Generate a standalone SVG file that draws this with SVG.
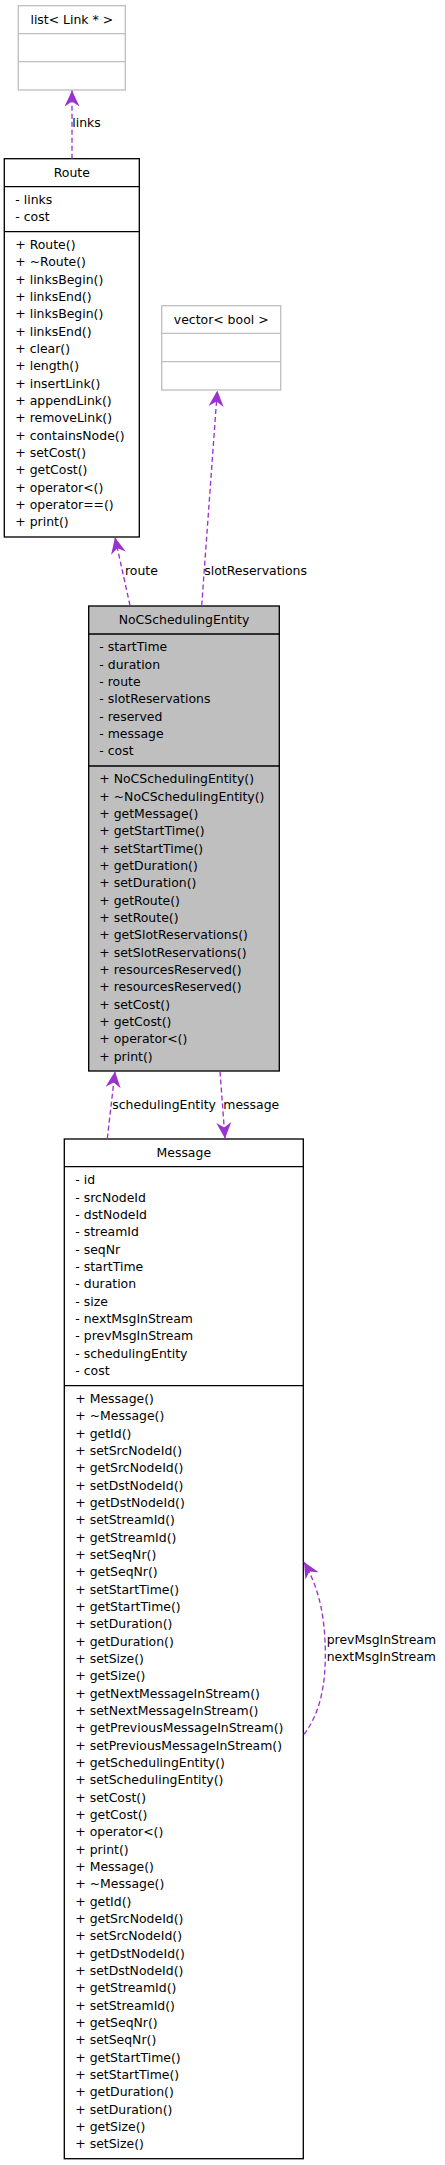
<svg xmlns="http://www.w3.org/2000/svg" width="445" height="2165" viewBox="0 0 445 2165">
<style>
text{font-family:"DejaVu Sans","Liberation Sans",sans-serif;font-size:12.45px;fill:#000}
.c{text-anchor:middle}
.box{fill:#fff;stroke:#000;stroke-width:1.33}
.ext{fill:#fff;stroke:#bfbfbf;stroke-width:1.33}
.sel{fill:#bfbfbf;stroke:#000;stroke-width:1.33}
.dv{stroke:#000;stroke-width:1.33}
.dvg{stroke:#bfbfbf;stroke-width:1.33}
.e{fill:none;stroke:#9a32cd;stroke-width:1.33;stroke-dasharray:5,3;marker-end:url(#ah)}
</style>
<defs>
<marker id="ah" viewBox="0 0 16 15" refX="16" refY="7.5" markerWidth="16" markerHeight="15" orient="auto" markerUnits="userSpaceOnUse">
<path d="M16,7.5 L0,0 L5,7.5 L0,15 z" fill="#9a32cd"/>
</marker>
</defs>
<rect width="445" height="2165" fill="#fff"/>

<g id="list_link">
<rect class="ext" x="18.3" y="5.7" width="107" height="84.3"/>
<line class="dvg" x1="18.3" y1="33.7" x2="125.3" y2="33.7"/>
<line class="dvg" x1="18.3" y1="61.7" x2="125.3" y2="61.7"/>
<text class="c" x="71.8" y="23.5">list&lt; Link * &gt;</text>
</g>

<g id="route">
<rect class="box" x="4.3" y="158.7" width="135" height="378.3"/>
<line class="dv" x1="4.3" y1="186.7" x2="139.3" y2="186.7"/>
<line class="dv" x1="4.3" y1="231.7" x2="139.3" y2="231.7"/>
<text class="c" x="71.8" y="176.7">Route</text>
<text x="15.3" y="204">- links</text>
<text x="15.3" y="221.3">- cost</text>
<text x="15.3" y="249">+ Route()</text>
<text x="15.3" y="266.3">+ ~Route()</text>
<text x="15.3" y="283.7">+ linksBegin()</text>
<text x="15.3" y="301">+ linksEnd()</text>
<text x="15.3" y="318.3">+ linksBegin()</text>
<text x="15.3" y="335.7">+ linksEnd()</text>
<text x="15.3" y="353">+ clear()</text>
<text x="15.3" y="370.3">+ length()</text>
<text x="15.3" y="387.7">+ insertLink()</text>
<text x="15.3" y="405">+ appendLink()</text>
<text x="15.3" y="422.3">+ removeLink()</text>
<text x="15.3" y="439.7">+ containsNode()</text>
<text x="15.3" y="457">+ setCost()</text>
<text x="15.3" y="474.3">+ getCost()</text>
<text x="15.3" y="491.7">+ operator&lt;()</text>
<text x="15.3" y="509">+ operator==()</text>
<text x="15.3" y="526.3">+ print()</text>
</g>

<g id="vector_bool">
<rect class="ext" x="161.7" y="305.7" width="119" height="84.3"/>
<line class="dvg" x1="161.7" y1="333.3" x2="280.7" y2="333.3"/>
<line class="dvg" x1="161.7" y1="361.7" x2="280.7" y2="361.7"/>
<text class="c" x="221.2" y="323.5">vector&lt; bool &gt;</text>
</g>

<g id="nocschedulingentity">
<rect class="sel" x="88.7" y="606" width="190.6" height="465"/>
<line class="dv" x1="88.7" y1="634" x2="279.3" y2="634"/>
<line class="dv" x1="88.7" y1="766" x2="279.3" y2="766"/>
<text class="c" x="184" y="624">NoCSchedulingEntity</text>
<text x="99.3" y="651.3">- startTime</text>
<text x="99.3" y="668.7">- duration</text>
<text x="99.3" y="686">- route</text>
<text x="99.3" y="703.3">- slotReservations</text>
<text x="99.3" y="720.7">- reserved</text>
<text x="99.3" y="738">- message</text>
<text x="99.3" y="755.3">- cost</text>
<text x="99.3" y="783.3">+ NoCSchedulingEntity()</text>
<text x="99.3" y="800.7">+ ~NoCSchedulingEntity()</text>
<text x="99.3" y="818">+ getMessage()</text>
<text x="99.3" y="835.3">+ getStartTime()</text>
<text x="99.3" y="852.7">+ setStartTime()</text>
<text x="99.3" y="870">+ getDuration()</text>
<text x="99.3" y="887.3">+ setDuration()</text>
<text x="99.3" y="904.7">+ getRoute()</text>
<text x="99.3" y="922">+ setRoute()</text>
<text x="99.3" y="939.3">+ getSlotReservations()</text>
<text x="99.3" y="956.7">+ setSlotReservations()</text>
<text x="99.3" y="974">+ resourcesReserved()</text>
<text x="99.3" y="991.3">+ resourcesReserved()</text>
<text x="99.3" y="1008.7">+ setCost()</text>
<text x="99.3" y="1026">+ getCost()</text>
<text x="99.3" y="1043.3">+ operator&lt;()</text>
<text x="99.3" y="1060.7">+ print()</text>
</g>

<g id="message">
<rect class="box" x="64.3" y="1139" width="239" height="1019.7"/>
<line class="dv" x1="64.3" y1="1166.7" x2="303.3" y2="1166.7"/>
<line class="dv" x1="64.3" y1="1385.7" x2="303.3" y2="1385.7"/>
<text class="c" x="183.8" y="1157.3">Message</text>
<text x="75.3" y="1184.3">- id</text>
<text x="75.3" y="1201.7">- srcNodeId</text>
<text x="75.3" y="1219">- dstNodeId</text>
<text x="75.3" y="1236.3">- streamId</text>
<text x="75.3" y="1253.7">- seqNr</text>
<text x="75.3" y="1271">- startTime</text>
<text x="75.3" y="1288.3">- duration</text>
<text x="75.3" y="1305.7">- size</text>
<text x="75.3" y="1323">- nextMsgInStream</text>
<text x="75.3" y="1340.3">- prevMsgInStream</text>
<text x="75.3" y="1357.7">- schedulingEntity</text>
<text x="75.3" y="1375">- cost</text>
<text x="75.3" y="1403">+ Message()</text>
<text x="75.3" y="1420.3">+ ~Message()</text>
<text x="75.3" y="1437.7">+ getId()</text>
<text x="75.3" y="1455">+ setSrcNodeId()</text>
<text x="75.3" y="1472.3">+ getSrcNodeId()</text>
<text x="75.3" y="1489.7">+ setDstNodeId()</text>
<text x="75.3" y="1507">+ getDstNodeId()</text>
<text x="75.3" y="1524.3">+ setStreamId()</text>
<text x="75.3" y="1541.7">+ getStreamId()</text>
<text x="75.3" y="1559">+ setSeqNr()</text>
<text x="75.3" y="1576.3">+ getSeqNr()</text>
<text x="75.3" y="1593.7">+ setStartTime()</text>
<text x="75.3" y="1611">+ getStartTime()</text>
<text x="75.3" y="1628.3">+ setDuration()</text>
<text x="75.3" y="1645.7">+ getDuration()</text>
<text x="75.3" y="1663">+ setSize()</text>
<text x="75.3" y="1680.3">+ getSize()</text>
<text x="75.3" y="1697.7">+ getNextMessageInStream()</text>
<text x="75.3" y="1715">+ setNextMessageInStream()</text>
<text x="75.3" y="1732.3">+ getPreviousMessageInStream()</text>
<text x="75.3" y="1749.7">+ setPreviousMessageInStream()</text>
<text x="75.3" y="1767">+ getSchedulingEntity()</text>
<text x="75.3" y="1784.3">+ setSchedulingEntity()</text>
<text x="75.3" y="1801.7">+ setCost()</text>
<text x="75.3" y="1819">+ getCost()</text>
<text x="75.3" y="1836.3">+ operator&lt;()</text>
<text x="75.3" y="1853.7">+ print()</text>
<text x="75.3" y="1871">+ Message()</text>
<text x="75.3" y="1888.3">+ ~Message()</text>
<text x="75.3" y="1905.7">+ getId()</text>
<text x="75.3" y="1923">+ getSrcNodeId()</text>
<text x="75.3" y="1940.3">+ setSrcNodeId()</text>
<text x="75.3" y="1957.7">+ getDstNodeId()</text>
<text x="75.3" y="1975">+ setDstNodeId()</text>
<text x="75.3" y="1992.3">+ getStreamId()</text>
<text x="75.3" y="2009.7">+ setStreamId()</text>
<text x="75.3" y="2027">+ getSeqNr()</text>
<text x="75.3" y="2044.3">+ setSeqNr()</text>
<text x="75.3" y="2061.7">+ getStartTime()</text>
<text x="75.3" y="2079">+ setStartTime()</text>
<text x="75.3" y="2096.3">+ getDuration()</text>
<text x="75.3" y="2113.7">+ setDuration()</text>
<text x="75.3" y="2131">+ getSize()</text>
<text x="75.3" y="2148.3">+ setSize()</text>
</g>

<g id="connectors">
<path class="e" d="M72,158.7 L72,90.5"/>
<text x="72.3" y="126.7">links</text>
<path class="e" d="M130,605.5 L115,537.5"/>
<text x="125" y="575">route</text>
<path class="e" d="M201.7,605.5 L217.3,390.5"/>
<text x="204.3" y="575">slotReservations</text>
<path class="e" d="M107.3,1138.5 L115,1071.5"/>
<text x="112.3" y="1109">schedulingEntity</text>
<path class="e" d="M220,1071.5 L225,1138.5"/>
<text x="223.3" y="1109">message</text>
<path class="e" d="M304,1734.3 C318,1716 326,1690 325.3,1650 C324.7,1618 320,1590 304,1562"/>
<text x="326.7" y="1644">prevMsgInStream</text>
<text x="326.7" y="1661.3">nextMsgInStream</text>
</g>
</svg>
